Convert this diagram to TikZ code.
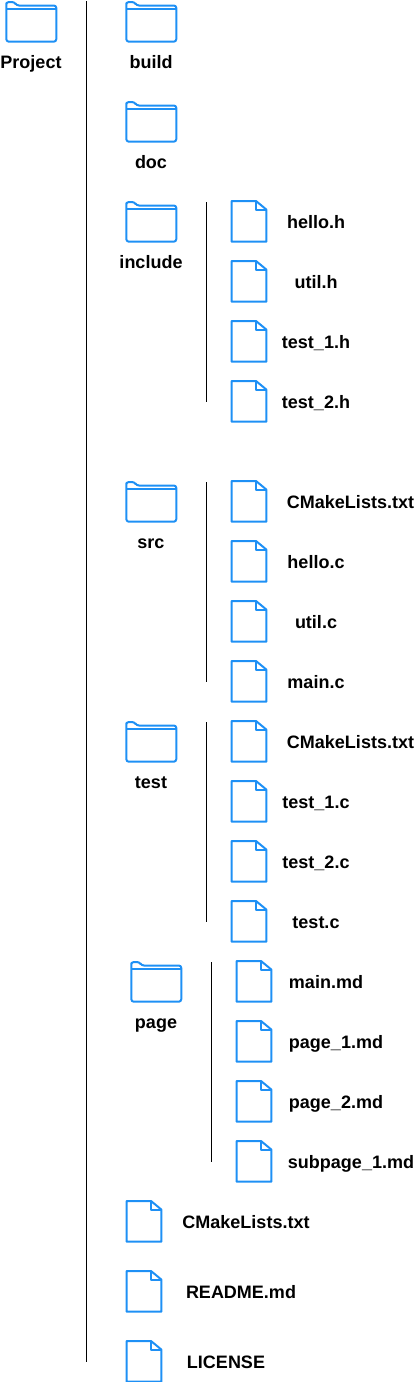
\documentclass[tikz,border=0pt]{standalone}
\usepackage{fontspec}
\setmainfont{Liberation Sans}
\usepackage{tikz}
\definecolor{iconblue}{HTML}{1E90F5}
\tikzset{
    every node/.style={inner sep=0mm},
    lbl/.style={font=\fontsize{18}{20}\selectfont\bfseries, text=black, text height=13pt, text depth=0pt},
    guide/.style={draw=black, line width=1pt},
    icon/.style={draw=iconblue, line width=2pt, line join=round, fill=none},
    pics/foldericon/.style={code={
        \draw[icon, rounded corners=2.5pt] (0.3,4.5) -- (0.3,40.7) -- (50.3,40.7) -- (50.3,4.5) -- (10.5,4.5) -- (8.5,1) -- (0.3,1) -- cycle;
        \draw[icon] (0.3,8) -- (50.3,8);
    }},
    pics/fileicon/.style={code={
        \draw[icon] (0.7,0) -- (25,0) -- (35.3,8.5) -- (35.3,40.7) -- (0.7,40.7) -- cycle;
        \draw[icon] (25,0) -- (25,8.5) -- (35.3,8.5);
    }}
}
\begin{document}
\begin{tikzpicture}[x=1pt, y=-1pt]
    \useasboundingbox (0,0) rectangle (415,1382);

    \coordinate (top0) at (86,1);
    \coordinate (end0) at (86,1362);
    \coordinate (top1) at (206.5,202);
    \coordinate (end1) at (206.5,402);
    \coordinate (top2) at (206.5,482);
    \coordinate (end2) at (206.5,682);
    \coordinate (top3) at (206.5,722);
    \coordinate (end3) at (206.5,922);
    \coordinate (top4) at (211.5,962);
    \coordinate (end4) at (211.5,1162);
    \draw[guide] (top0) -- (end0);
    \draw[guide] (top1) -- (end1);
    \draw[guide] (top2) -- (end2);
    \draw[guide] (top3) -- (end3);
    \draw[guide] (top4) -- (end4);

    \pic (project) at (6,1) {foldericon};
    \pic (build) at (126,1) {foldericon};
    \pic (doc) at (126,101) {foldericon};
    \pic (include) at (126,201) {foldericon};
    \pic (src) at (126,481) {foldericon};
    \pic (test) at (126,721) {foldericon};
    \pic (page) at (131,961) {foldericon};

    \node (Lproject) [lbl] at (31,62) {Project};
    \node (Lbuild) [lbl] at (151,62) {build};
    \node (Ldoc) [lbl] at (151,162) {doc};
    \node (Linclude) [lbl] at (151,262) {include};
    \node (Lsrc) [lbl] at (151,542) {src};
    \node (Ltest) [lbl] at (151,782) {test};
    \node (Lpage) [lbl] at (156,1022) {page};

    % include
    \pic (f1) at (231,201) {fileicon};
    \pic (f2) at (231,261) {fileicon};
    \pic (f3) at (231,321) {fileicon};
    \pic (f4) at (231,381) {fileicon};
    \node (L1) [lbl] at (316,222) {hello.h};
    \node (L2) [lbl] at (316,282) {util.h};
    \node (L3) [lbl] at (316,342) {test\_1.h};
    \node (L4) [lbl] at (316,402) {test\_2.h};

    % src
    \pic (f5) at (231,481) {fileicon};
    \pic (f6) at (231,541) {fileicon};
    \pic (f7) at (231,601) {fileicon};
    \pic (f8) at (231,661) {fileicon};
    \node (L5) [lbl] at (350.5,502) {CMakeLists.txt};
    \node (L6) [lbl] at (316,562) {hello.c};
    \node (L7) [lbl] at (316,622) {util.c};
    \node (L8) [lbl] at (316,682) {main.c};

    % test
    \pic (f9) at (231,721) {fileicon};
    \pic (f10) at (231,781) {fileicon};
    \pic (f11) at (231,841) {fileicon};
    \pic (f12) at (231,901) {fileicon};
    \node (L9) [lbl] at (350.5,742) {CMakeLists.txt};
    \node (L10) [lbl] at (316,802) {test\_1.c};
    \node (L11) [lbl] at (316,862) {test\_2.c};
    \node (L12) [lbl] at (316,922) {test.c};

    % page
    \pic (f13) at (236,961) {fileicon};
    \pic (f14) at (236,1021) {fileicon};
    \pic (f15) at (236,1081) {fileicon};
    \pic (f16) at (236,1141) {fileicon};
    \node (L13) [lbl] at (326,982) {main.md};
    \node (L14) [lbl] at (336,1042) {page\_1.md};
    \node (L15) [lbl] at (336,1102) {page\_2.md};
    \node (L16) [lbl] at (351,1162) {subpage\_1.md};

    \pic (f17) at (126,1201) {fileicon};
    \pic (f18) at (126,1271) {fileicon};
    \pic (f19) at (126,1341) {fileicon};
    \node (L17) [lbl] at (246,1222) {CMakeLists.txt};
    \node (L18) [lbl] at (241,1292) {README.md};
    \node (L19) [lbl] at (226,1362) {LICENSE};
\end{tikzpicture}
\end{document}
